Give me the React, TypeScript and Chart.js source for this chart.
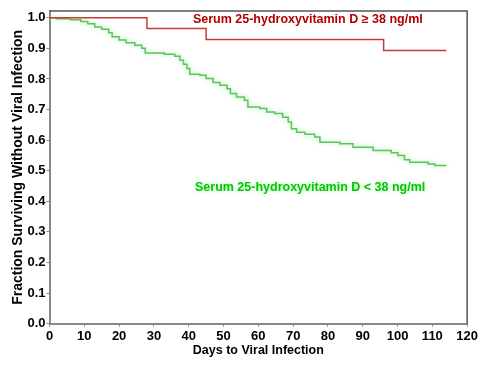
import React, { useEffect, useRef } from 'react';
import { Chart, registerables } from 'chart.js';

Chart.register(...registerables);

// Kaplan-Meier curves: each point is (day of drop, survival after drop)
const highDays = [0, 28, 45, 96, 114];
const highSurvival = [1.0, 0.965, 0.929, 0.893, 0.893];

const lowDays = [0, 2, 6, 9, 11, 13, 15, 17, 18, 20, 22, 24.5, 26.5, 27.5, 33, 36, 37.5, 38.5, 39.5, 40.3, 43.2, 45, 47, 49, 51, 52, 53.7, 56, 57, 60.4, 62.4, 64.7, 67, 68.6, 69.5, 71, 73.4, 76.2, 77.7, 83.4, 87.2, 93, 98.2, 100.1, 102, 103.5, 108.8, 110.7, 114];
const lowSurvival = [1.0, 0.997, 0.993, 0.988, 0.98, 0.97, 0.962, 0.951, 0.938, 0.927, 0.918, 0.91, 0.9, 0.885, 0.881, 0.874, 0.861, 0.848, 0.834, 0.815, 0.812, 0.801, 0.788, 0.779, 0.768, 0.752, 0.741, 0.73, 0.708, 0.703, 0.692, 0.687, 0.675, 0.659, 0.637, 0.626, 0.619, 0.61, 0.593, 0.588, 0.577, 0.566, 0.559, 0.55, 0.536, 0.528, 0.522, 0.517, 0.517];

const xTickValues = [0, 10, 20, 30, 40, 50, 60, 70, 80, 90, 100, 110, 120];
const yTickValues = [0, 0.1, 0.2, 0.3, 0.4, 0.5, 0.6, 0.7, 0.8, 0.9, 1.0];

const highLabel = 'Serum 25-hydroxyvitamin D \u2265 38 ng/ml';
const lowLabel = 'Serum 25-hydroxyvitamin D < 38 ng/ml';
const xTitle = 'Days to Viral Infection';
const yTitle = 'Fraction Surviving Without Viral Infection';

const FONT = '"Liberation Sans", Arial, sans-serif';

export default function App() {
  const ref = useRef<HTMLCanvasElement | null>(null);

  useEffect(() => {
    document.body.style.margin = '0';
    const canvas = ref.current;
    if (!canvas) return;

    const framePlugin = {
      id: 'frame',
      afterDatasetsDraw(chart: any) {
        const { ctx, chartArea } = chart;
        ctx.save();
        ctx.strokeStyle = '#555555';
        ctx.lineWidth = 1.5;
        ctx.beginPath();
        ctx.moveTo(chartArea.left, chartArea.top);
        ctx.lineTo(chartArea.right, chartArea.top);
        ctx.lineTo(chartArea.right, chartArea.bottom);
        ctx.stroke();
        ctx.restore();
      },
      afterDraw(chart: any) {
        const { ctx } = chart;
        const xs = chart.scales.x;
        const ys = chart.scales.y;
        ctx.save();
        ctx.font = `bold 12.5px ${FONT}`;
        ctx.textBaseline = 'middle';
        ctx.textAlign = 'left';
        ctx.fillStyle = '#b00000';
        ctx.fillText(highLabel, xs.getPixelForValue(41.2), ys.getPixelForValue(0.993));
        ctx.shadowColor = 'rgba(120,230,120,0.6)';
        ctx.shadowBlur = 4;
        ctx.fillStyle = '#00c800';
        ctx.fillText(lowLabel, xs.getPixelForValue(41.8), ys.getPixelForValue(0.446));
        ctx.restore();
      },
    };

    const glowPlugin = {
      id: 'glow',
      beforeDatasetDraw(chart: any, args: any) {
        const ctx = chart.ctx;
        ctx.save();
        if (args.index === 1) {
          ctx.shadowColor = 'rgba(140,225,140,0.7)';
          ctx.shadowBlur = 5;
        }
      },
      afterDatasetDraw(chart: any) {
        chart.ctx.restore();
      },
    };

    const chart = new Chart(canvas, {
      type: 'line',
      data: {
        datasets: [
          {
            label: highLabel,
            data: highDays.map((d, i) => ({ x: d, y: highSurvival[i] })),
            borderColor: '#c83a3a',
            borderWidth: 1.5,
            stepped: 'before',
            pointRadius: 0,
            fill: false,
          },
          {
            label: lowLabel,
            data: lowDays.map((d, i) => ({ x: d, y: lowSurvival[i] })),
            borderColor: '#5cc45c',
            borderWidth: 1.5,
            stepped: 'before',
            pointRadius: 0,
            fill: false,
          },
        ],
      },
      options: {
        responsive: false,
        animation: false,
        layout: { padding: { top: 11, right: 12, bottom: 0, left: 0 } },
        plugins: {
          legend: { display: false },
          tooltip: { enabled: false },
        },
        scales: {
          x: {
            type: 'linear',
            min: 0,
            max: 120,
            afterBuildTicks: (s: any) => {
              s.ticks = xTickValues.map((v) => ({ value: v }));
            },
            afterFit: (s: any) => {
              s.height = 45.3;
            },
            ticks: {
              color: '#000',
              font: { family: FONT, size: 13, weight: 'bold' },
              padding: 2,
              maxRotation: 0,
              autoSkip: false,
            },
            grid: {
              display: true,
              drawOnChartArea: false,
              drawTicks: true,
              tickLength: 3,
              color: '#888888',
            },
            border: { color: '#888888', width: 2 },
            title: {
              display: true,
              text: xTitle,
              color: '#000',
              font: { family: FONT, size: 12.5, weight: 'bold' },
              padding: { top: 0, bottom: 11 },
            },
          },
          y: {
            type: 'linear',
            min: 0,
            max: 1.022,
            afterBuildTicks: (s: any) => {
              s.ticks = yTickValues.map((v) => ({ value: v }));
            },
            afterFit: (s: any) => {
              s.width = 49.5;
            },
            ticks: {
              color: '#000',
              font: { family: FONT, size: 13, weight: 'bold' },
              padding: 1,
              callback: (v: any) => Number(v).toFixed(1),
            },
            grid: {
              display: true,
              drawOnChartArea: false,
              drawTicks: true,
              tickLength: 3,
              color: '#888888',
            },
            border: { color: '#888888', width: 2 },
            title: {
              display: true,
              text: yTitle,
              color: '#000',
              font: { family: FONT, size: 14, weight: 'bold' },
              padding: { top: 10, bottom: 0 },
            },
          },
        },
      },
      plugins: [glowPlugin, framePlugin],
    } as any);

    return () => {
      chart.destroy();
    };
  }, []);

  return <canvas ref={ref} width={480} height={369} style={{ display: 'block' }} />;
}
